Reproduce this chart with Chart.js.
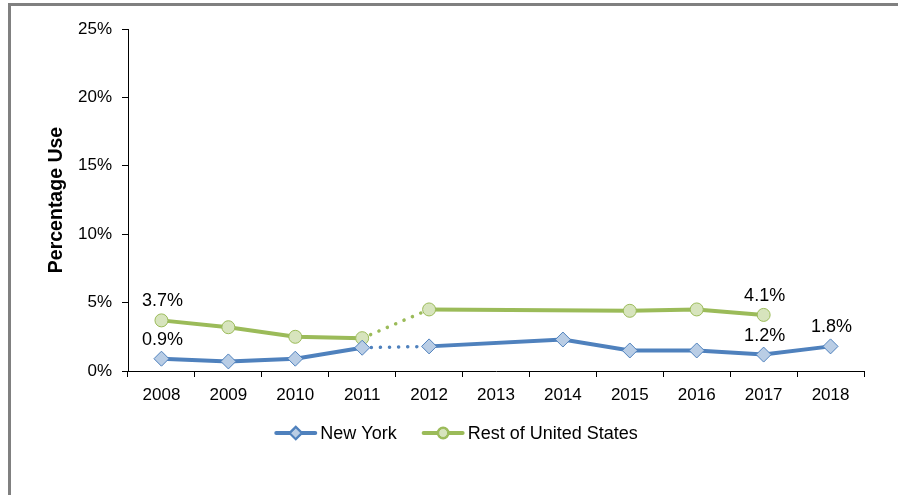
<!DOCTYPE html>
<html>
<head>
<meta charset="utf-8">
<script src="https://cdn.jsdelivr.net/npm/chart.js@4"></script>
<style>
  html, body { margin: 0; padding: 0; background: #fff; }
  #wrap { position: relative; width: 898px; height: 495px; }
</style>
</head>
<body>
<div id="wrap"><canvas id="chart" width="898" height="495"></canvas></div>
<script>
// chart data
const years = ['2008', '2009', '2010', '2011', '2012', '2013', '2014', '2015', '2016', '2017', '2018'];
const newYork = [0.9, 0.7, 0.9, 1.7, 1.8, null, 2.3, 1.5, 1.5, 1.2, 1.8];
const restOfUS = [3.7, 3.2, 2.5, 2.4, 4.5, null, null, 4.4, 4.5, 4.1, null];
const yTicks = [0, 5, 10, 15, 20, 25];
// which points get a value label
const labeledNY = [0, 9, 10];
const labeledRest = [0, 9];
const dottedFrom = 3; // segment 2011 -> 2012 is dotted

const FONT = 'Arial, "Liberation Sans", sans-serif';
const blue = '#4F81BD', blueFill = '#B9CDE5';
const green = '#9BBB59', greenFill = '#D7E4BD';

const dotted = (ctx) => ctx.p0DataIndex === dottedFrom ? [0.1, 9] : undefined;
const dottedW = (ctx) => ctx.p0DataIndex === dottedFrom ? 3.5 : undefined;

// gray frame round the picture
const framePlugin = {
  id: 'frame',
  beforeDraw(chart) {
    const c = chart.ctx;
    c.save();
    c.fillStyle = '#808080';
    c.fillRect(8, 3, 3, chart.height);
    c.fillRect(8, 3, chart.width, 3);
    c.restore();
  }
};

// value labels above chosen points
const valueLabels = {
  id: 'valueLabels',
  afterDatasetsDraw(chart) {
    const c = chart.ctx;
    c.save();
    c.font = '18px ' + FONT;
    c.fillStyle = '#000';
    c.textAlign = 'center';
    c.textBaseline = 'middle';
    [[0, labeledNY], [1, labeledRest]].forEach(([di, idx]) => {
      const meta = chart.getDatasetMeta(di);
      idx.forEach(i => {
        const p = meta.data[i];
        const v = chart.data.datasets[di].data[i];
        c.fillText(v.toFixed(1) + '%', p.x + 1, p.y - 19);
      });
    });
    c.restore();
  }
};

// legend with line + marker samples
const lineLegend = {
  id: 'lineLegend',
  afterDraw(chart) {
    const c = chart.ctx;
    c.save();
    c.font = '18px ' + FONT;
    c.textBaseline = 'middle';
    const y = 433, sample = 43, gap = 3, between = 25;
    const items = chart.data.datasets;
    let total = 0;
    items.forEach((d, i) => {
      total += sample + gap + c.measureText(d.label).width + (i ? between : 0);
    });
    let x = chart.width / 2 + 7 - total / 2;
    items.forEach((d, i) => {
      if (i) x += between;
      c.strokeStyle = d.borderColor;
      c.lineWidth = 4;
      c.lineCap = 'round';
      c.beginPath(); c.moveTo(x + 2, y); c.lineTo(x + sample - 2, y); c.stroke();
      Chart.helpers.drawPoint(c, {
        pointStyle: d.pointStyle, radius: d.pointStyle === 'circle' ? 4.5 : 5,
        borderWidth: 1
      }, x + sample / 2, y);
      c.fillStyle = d.pointBackgroundColor;
      c.strokeStyle = d.pointBorderColor;
      c.lineWidth = 1;
      c.fill(); c.stroke();
      c.fillStyle = '#000';
      c.fillText(d.label, x + sample + gap, y + 1);
      x += sample + gap + c.measureText(d.label).width;
    });
    c.restore();
  }
};

new Chart(document.getElementById('chart'), {
  type: 'line',
  data: {
    labels: years,
    datasets: [
      {
        label: 'New York',
        data: newYork,
        borderColor: blue,
        borderWidth: 4,
        pointStyle: 'rectRot',
        pointRadius: 7.5,
        pointBackgroundColor: blueFill,
        pointBorderColor: blue,
        pointBorderWidth: 1,
        spanGaps: true,
        borderCapStyle: 'round',
        segment: { borderDash: dotted, borderWidth: dottedW }
      },
      {
        label: 'Rest of United States',
        data: restOfUS,
        borderColor: green,
        borderWidth: 4,
        pointStyle: 'circle',
        pointRadius: 6.5,
        pointBackgroundColor: greenFill,
        pointBorderColor: green,
        pointBorderWidth: 1,
        spanGaps: true,
        borderCapStyle: 'round',
        segment: { borderDash: dotted, borderWidth: dottedW }
      }
    ]
  },
  options: {
    responsive: false,
    animation: false,
    layout: { padding: { left: 43, right: 34, top: 29, bottom: 84 } },
    plugins: {
      legend: { display: false },
      tooltip: { enabled: false }
    },
    scales: {
      x: {
        offset: true,
        grid: { offset: true, drawOnChartArea: false, drawTicks: true, tickLength: 6, color: '#000' },
        border: { display: true, color: '#000', width: 1 },
        ticks: { color: '#000', font: { family: FONT, size: 17 }, padding: 8, maxRotation: 0 },
        afterFit(scale) { scale.height = 40; }
      },
      y: {
        min: 0,
        max: 25,
        afterBuildTicks(scale) { scale.ticks = yTicks.map(v => ({ value: v })); },
        grid: { drawOnChartArea: false, drawTicks: true, tickLength: 6, color: '#000' },
        border: { display: true, color: '#000', width: 1 },
        ticks: { color: '#000', font: { family: FONT, size: 17 }, padding: 10, callback: v => v + '%' },
        title: { display: true, text: 'Percentage Use', color: '#000', font: { family: FONT, size: 19.5, weight: 'bold' }, padding: { top: 2, bottom: 4 } },
        afterFit(scale) { scale.width = 85; }
      }
    }
  },
  plugins: [framePlugin, valueLabels, lineLegend]
});
</script>
</body>
</html>
